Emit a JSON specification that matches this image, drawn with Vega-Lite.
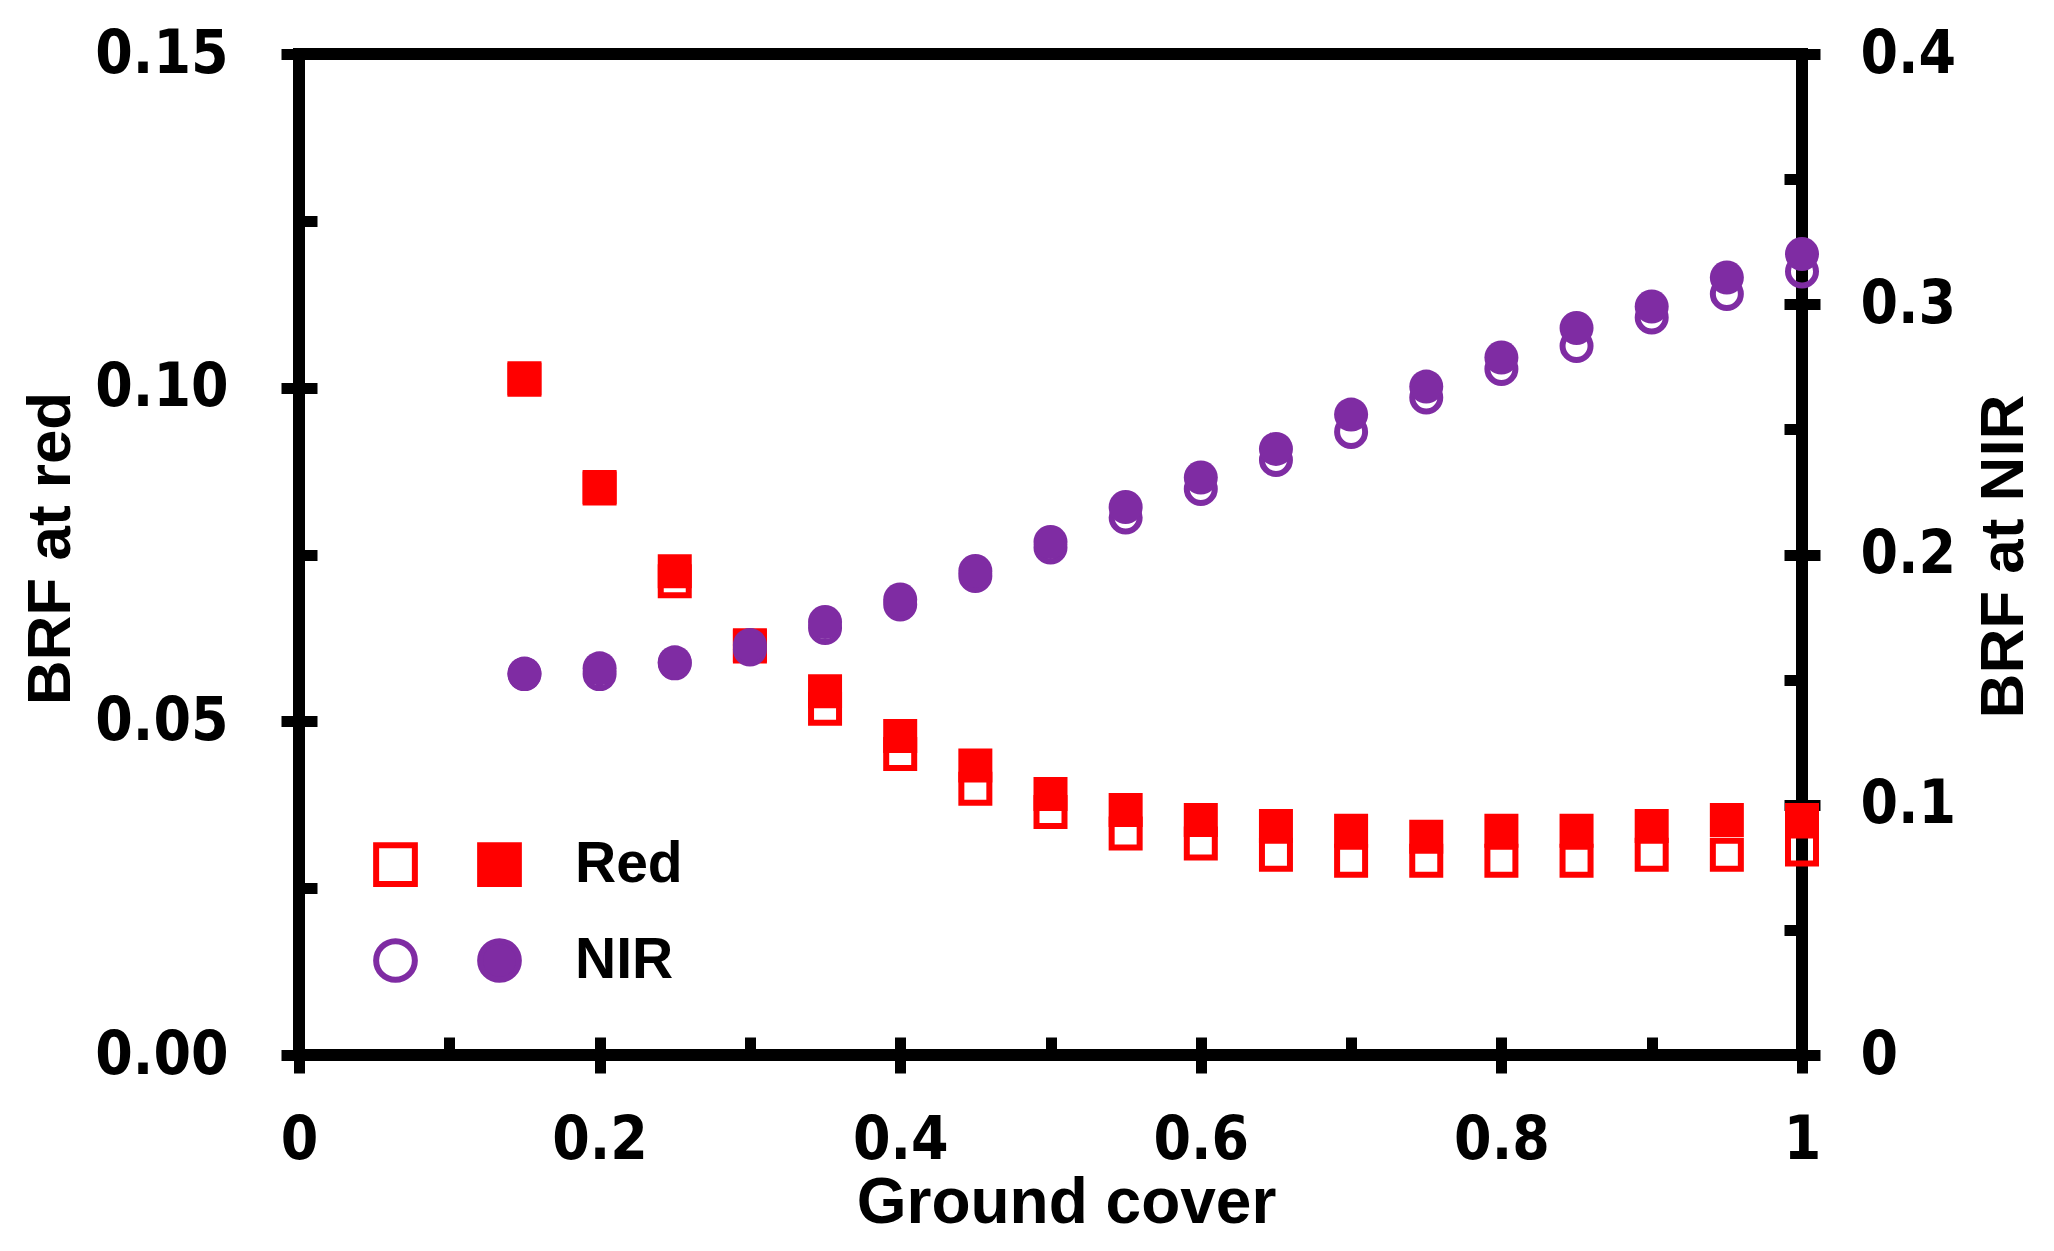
{
  "$schema": "https://vega.github.io/schema/vega-lite/v6.json",
  "autosize": "none",
  "width": 1503,
  "height": 1001,
  "padding": {"left": 299, "top": 54, "right": 252, "bottom": 196},
  "background": "white",
  "data": {
    "values": [
      {"cover": 0.15, "series": "Red open", "brf": 0.1012},
      {"cover": 0.2, "series": "Red open", "brf": 0.0849},
      {"cover": 0.25, "series": "Red open", "brf": 0.0710},
      {"cover": 0.3, "series": "Red open", "brf": 0.0612},
      {"cover": 0.35, "series": "Red open", "brf": 0.0519},
      {"cover": 0.4, "series": "Red open", "brf": 0.0451},
      {"cover": 0.45, "series": "Red open", "brf": 0.0399},
      {"cover": 0.5, "series": "Red open", "brf": 0.0364},
      {"cover": 0.55, "series": "Red open", "brf": 0.0332},
      {"cover": 0.6, "series": "Red open", "brf": 0.0317},
      {"cover": 0.65, "series": "Red open", "brf": 0.0300},
      {"cover": 0.7, "series": "Red open", "brf": 0.0291},
      {"cover": 0.75, "series": "Red open", "brf": 0.0291},
      {"cover": 0.8, "series": "Red open", "brf": 0.0291},
      {"cover": 0.85, "series": "Red open", "brf": 0.0291},
      {"cover": 0.9, "series": "Red open", "brf": 0.0300},
      {"cover": 0.95, "series": "Red open", "brf": 0.0300},
      {"cover": 1.0, "series": "Red open", "brf": 0.0308},
      {"cover": 0.15, "series": "Red filled", "brf": 0.1014},
      {"cover": 0.2, "series": "Red filled", "brf": 0.0851},
      {"cover": 0.25, "series": "Red filled", "brf": 0.0725},
      {"cover": 0.3, "series": "Red filled", "brf": 0.0614},
      {"cover": 0.35, "series": "Red filled", "brf": 0.0545},
      {"cover": 0.4, "series": "Red filled", "brf": 0.0478},
      {"cover": 0.45, "series": "Red filled", "brf": 0.0434},
      {"cover": 0.5, "series": "Red filled", "brf": 0.0391},
      {"cover": 0.55, "series": "Red filled", "brf": 0.0367},
      {"cover": 0.6, "series": "Red filled", "brf": 0.0352},
      {"cover": 0.65, "series": "Red filled", "brf": 0.0343},
      {"cover": 0.7, "series": "Red filled", "brf": 0.0336},
      {"cover": 0.75, "series": "Red filled", "brf": 0.0327},
      {"cover": 0.8, "series": "Red filled", "brf": 0.0336},
      {"cover": 0.85, "series": "Red filled", "brf": 0.0336},
      {"cover": 0.9, "series": "Red filled", "brf": 0.0343},
      {"cover": 0.95, "series": "Red filled", "brf": 0.0352},
      {"cover": 1.0, "series": "Red filled", "brf": 0.0352},
      {"cover": 0.15, "series": "NIR open", "brf": 0.1522},
      {"cover": 0.2, "series": "NIR open", "brf": 0.1522},
      {"cover": 0.25, "series": "NIR open", "brf": 0.1565},
      {"cover": 0.3, "series": "NIR open", "brf": 0.1620},
      {"cover": 0.35, "series": "NIR open", "brf": 0.1706},
      {"cover": 0.4, "series": "NIR open", "brf": 0.1800},
      {"cover": 0.45, "series": "NIR open", "brf": 0.1914},
      {"cover": 0.5, "series": "NIR open", "brf": 0.2028},
      {"cover": 0.55, "series": "NIR open", "brf": 0.2148},
      {"cover": 0.6, "series": "NIR open", "brf": 0.2262},
      {"cover": 0.65, "series": "NIR open", "brf": 0.2378},
      {"cover": 0.7, "series": "NIR open", "brf": 0.2490},
      {"cover": 0.75, "series": "NIR open", "brf": 0.2627},
      {"cover": 0.8, "series": "NIR open", "brf": 0.2741},
      {"cover": 0.85, "series": "NIR open", "brf": 0.2833},
      {"cover": 0.9, "series": "NIR open", "brf": 0.2947},
      {"cover": 0.95, "series": "NIR open", "brf": 0.3041},
      {"cover": 1.0, "series": "NIR open", "brf": 0.3131},
      {"cover": 0.15, "series": "NIR filled", "brf": 0.1524},
      {"cover": 0.2, "series": "NIR filled", "brf": 0.1545},
      {"cover": 0.25, "series": "NIR filled", "brf": 0.1569},
      {"cover": 0.3, "series": "NIR filled", "brf": 0.1638},
      {"cover": 0.35, "series": "NIR filled", "brf": 0.1730},
      {"cover": 0.4, "series": "NIR filled", "brf": 0.1820},
      {"cover": 0.45, "series": "NIR filled", "brf": 0.1934},
      {"cover": 0.5, "series": "NIR filled", "brf": 0.2050},
      {"cover": 0.55, "series": "NIR filled", "brf": 0.2190},
      {"cover": 0.6, "series": "NIR filled", "brf": 0.2308},
      {"cover": 0.65, "series": "NIR filled", "brf": 0.2422},
      {"cover": 0.7, "series": "NIR filled", "brf": 0.2559},
      {"cover": 0.75, "series": "NIR filled", "brf": 0.2671},
      {"cover": 0.8, "series": "NIR filled", "brf": 0.2787},
      {"cover": 0.85, "series": "NIR filled", "brf": 0.2905},
      {"cover": 0.9, "series": "NIR filled", "brf": 0.2991},
      {"cover": 0.95, "series": "NIR filled", "brf": 0.3107},
      {"cover": 1.0, "series": "NIR filled", "brf": 0.3201}
    ]
  },
  "layer": [
    {
      "transform": [{"filter": "datum.series === 'Red open'"}],
      "mark": {"type": "point", "filled": true, "size": 784, "strokeWidth": 6, "opacity": 1},
      "encoding": {
        "x": {
          "field": "cover",
          "type": "quantitative",
          "scale": {"domain": [0, 1], "nice": false},
          "axis": {
            "orient": "bottom",
            "values": [0, 0.2, 0.4, 0.6, 0.8, 1],
            "format": ".1~f",
            "domain": false,
            "grid": false,
            "tickColor": "black",
            "tickWidth": 11,
            "tickSize": 18,
            "labelPadding": 38,
            "labelFont": "DejaVu Sans Condensed, DejaVu Sans",
            "labelFontWeight": "bold",
            "labelFontSize": 60,
            "labelColor": "black",
            "labelOverlap": false,
            "labelFlush": false,
            "title": "Ground  cover",
            "titleFont": "Liberation Sans Narrow, Liberation Sans",
            "titleFontWeight": "bold",
            "titleFontSize": 64,
            "titleColor": "black",
            "titleX": 767,
            "titleY": 148,
            "titleAnchor": "middle",
            "titleAlign": "center",
            "titleBaseline": "middle"
          }
        },
        "y": {
          "field": "brf",
          "type": "quantitative",
          "scale": {"domain": [0, 0.15], "nice": false},
          "axis": {
            "orient": "left",
            "values": [0, 0.05, 0.1, 0.15],
            "format": ".2f",
            "domain": false,
            "grid": false,
            "tickColor": "black",
            "tickWidth": 11,
            "tickSize": 18,
            "labelPadding": 53,
            "labelFont": "DejaVu Sans Condensed, DejaVu Sans",
            "labelFontWeight": "bold",
            "labelFontSize": 60,
            "labelColor": "black",
            "labelOverlap": false,
            "labelFlush": false,
            "title": "BRF at red",
            "titleFont": "Liberation Sans",
            "titleFontWeight": "bold",
            "titleFontSize": 62,
            "titleColor": "black",
            "titleAngle": 270,
            "titleX": -249,
            "titleY": 494,
            "titleAlign": "center",
            "titleBaseline": "middle"
          }
        },
        "fill": {
          "field": "series",
          "type": "nominal",
          "scale": {
            "domain": ["Red open", "Red filled", "NIR open", "NIR filled"],
            "range": ["transparent", "#FF0000", "transparent", "#7F2CA3"]
          },
          "legend": {
            "orient": "none",
            "legendX": 68,
            "legendY": 782,
            "title": null,
            "padding": 0,
            "direction": "horizontal",
            "columns": 2,
            "columnPadding": -67,
            "rowPadding": 33,
            "symbolSize": 1500,
            "symbolStrokeWidth": 6,
            "labelExpr": "indexof(datum.label, 'open') >= 0 ? '' : replace(datum.label, ' filled', '')",
            "labelFont": "Liberation Sans",
            "labelFontWeight": "bold",
            "labelFontSize": 57,
            "labelColor": "black",
            "labelOffset": 47,
            "labelLimit": 0
          }
        },
        "stroke": {
          "field": "series",
          "type": "nominal",
          "scale": {
            "domain": ["Red open", "Red filled", "NIR open", "NIR filled"],
            "range": ["#FF0000", "#FF0000", "#7F2CA3", "#7F2CA3"]
          }
        },
        "shape": {
          "field": "series",
          "type": "nominal",
          "scale": {
            "domain": ["Red open", "Red filled", "NIR open", "NIR filled"],
            "range": ["square", "square", "circle", "circle"]
          }
        }
      }
    },
    {
      "transform": [{"filter": "datum.series === 'Red filled'"}],
      "mark": {"type": "point", "filled": true, "size": 1156, "strokeWidth": 0, "opacity": 1},
      "encoding": {
        "x": {
          "field": "cover",
          "type": "quantitative",
          "axis": {
            "orient": "bottom",
            "values": [0, 0.1, 0.2, 0.3, 0.4, 0.5, 0.6, 0.7, 0.8, 0.9, 1],
            "offset": -18,
            "domain": false,
            "grid": false,
            "labels": false,
            "title": null,
            "tickColor": "black",
            "tickWidth": 11,
            "tickSize": 18
          }
        },
        "y": {
          "field": "brf",
          "type": "quantitative",
          "scale": {"domain": [0, 0.15], "nice": false},
          "axis": {
            "orient": "left",
            "values": [0, 0.025, 0.05, 0.075, 0.1, 0.125, 0.15],
            "offset": -18,
            "domain": false,
            "grid": false,
            "labels": false,
            "title": null,
            "tickColor": "black",
            "tickWidth": 11,
            "tickSize": 18
          }
        },
        "fill": {"field": "series", "type": "nominal"},
        "stroke": {"field": "series", "type": "nominal"},
        "shape": {"field": "series", "type": "nominal"}
      }
    },
    {
      "transform": [{"filter": "datum.series === 'NIR open'"}],
      "mark": {"type": "point", "filled": true, "size": 784, "strokeWidth": 6, "opacity": 1},
      "encoding": {
        "x": {"field": "cover", "type": "quantitative", "axis": null},
        "y": {
          "field": "brf",
          "type": "quantitative",
          "scale": {"domain": [0, 0.4], "nice": false},
          "axis": {
            "orient": "right",
            "values": [0, 0.1, 0.2, 0.3, 0.4],
            "format": ".1~f",
            "domain": false,
            "grid": false,
            "tickColor": "black",
            "tickWidth": 11,
            "tickSize": 18,
            "labelPadding": 40,
            "labelFont": "DejaVu Sans Condensed, DejaVu Sans",
            "labelFontWeight": "bold",
            "labelFontSize": 60,
            "labelColor": "black",
            "labelOverlap": false,
            "labelFlush": false,
            "title": "BRF at NIR",
            "titleFont": "Liberation Sans",
            "titleFontWeight": "bold",
            "titleFontSize": 62,
            "titleColor": "black",
            "titleAngle": 270,
            "titleX": 201,
            "titleY": 502,
            "titleAlign": "center",
            "titleBaseline": "middle"
          }
        },
        "fill": {"field": "series", "type": "nominal"},
        "stroke": {"field": "series", "type": "nominal"},
        "shape": {"field": "series", "type": "nominal"}
      }
    },
    {
      "transform": [{"filter": "datum.series === 'NIR filled'"}],
      "mark": {"type": "point", "filled": true, "size": 1156, "strokeWidth": 0, "opacity": 1},
      "encoding": {
        "x": {"field": "cover", "type": "quantitative", "axis": null},
        "y": {
          "field": "brf",
          "type": "quantitative",
          "scale": {"domain": [0, 0.4], "nice": false},
          "axis": {
            "orient": "right",
            "values": [0, 0.05, 0.1, 0.15, 0.2, 0.25, 0.3, 0.35, 0.4],
            "offset": -18,
            "domain": false,
            "grid": false,
            "labels": false,
            "title": null,
            "tickColor": "black",
            "tickWidth": 11,
            "tickSize": 18
          }
        },
        "fill": {"field": "series", "type": "nominal"},
        "stroke": {"field": "series", "type": "nominal"},
        "shape": {"field": "series", "type": "nominal"}
      }
    }
  ],
  "resolve": {
    "scale": {"y": "independent"},
    "axis": {"x": "independent", "y": "independent"}
  },
  "config": {
    "view": {"stroke": "black", "strokeWidth": 12},
    "axis": {"grid": false}
  }
}
